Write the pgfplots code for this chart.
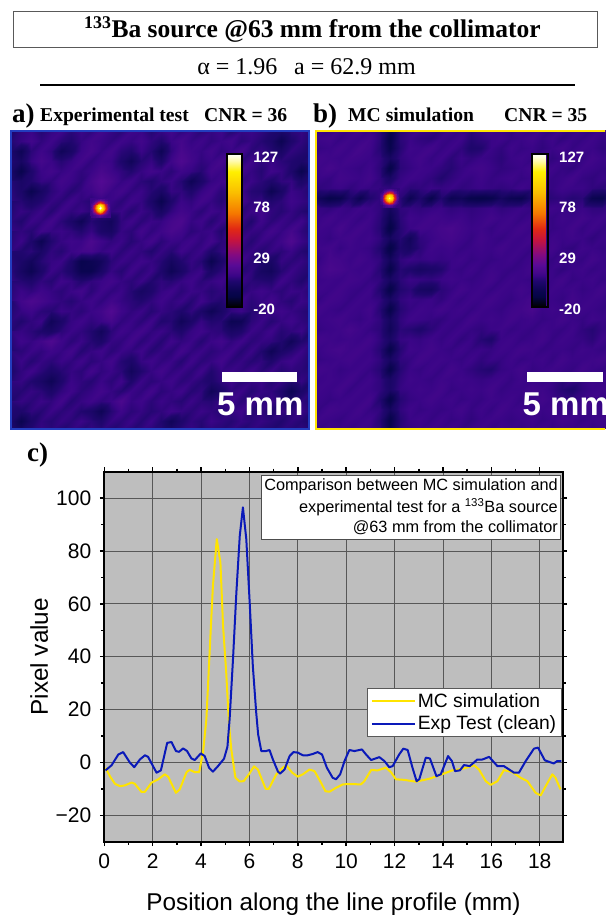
\documentclass[border=0pt]{standalone}
\usepackage{pgfplots}
\pgfplotsset{compat=1.18}
\usepackage{fontspec}
\setmainfont{Liberation Sans}
\newfontfamily\tnr{Liberation Serif}
\newcommand{\fs}[1]{\fontsize{#1}{#1}\selectfont}
\definecolor{chartgray}{RGB}{190,190,190}
\definecolor{gridc}{RGB}{88,88,88}
\definecolor{ylw}{RGB}{255,228,0}
\definecolor{blu}{RGB}{10,25,185}
\definecolor{pblue}{RGB}{35,60,190}
\pgfplotsset{
  colormap={fire}{rgb255(0pt)=(0,0,0) rgb255(10pt)=(5,5,70) rgb255(15pt)=(10,5,80) rgb255(25pt)=(32,6,110) rgb255(30pt)=(58,5,135) rgb255(34pt)=(72,8,140) rgb255(40pt)=(88,10,150) rgb255(50pt)=(130,10,130) rgb255(65pt)=(200,20,60) rgb255(75pt)=(225,40,20) rgb255(90pt)=(245,120,0) rgb255(110pt)=(250,190,0) rgb255(130pt)=(255,240,0) rgb255(140pt)=(255,250,170) rgb255(147pt)=(255,255,255)},
  panel/.style={scale only axis, height=298pt, xmin=0, ymin=0, ymax=298, y dir=reverse, ticks=none, axis on top, colormap name=fire, point meta min=-20, point meta max=127,
    colorbar,
    colorbar style={scale only axis, height=153pt, ytick={-20,29,78,127}, yticklabels={-20,29,78,127}, yticklabel pos=right, major tick length=0pt, minor tick length=0pt,
       yticklabel style={text=white, font=\bfseries\fs{15}, xshift=8pt, yshift=-3pt}, axis line style={black,line width=2.2pt}}},
}
\begin{document}
\begin{tikzpicture}[x=1pt,y=1pt]
\useasboundingbox (0,0) rectangle (605,915);
\clip (0,0) rectangle (605,915);
% header
\draw[black!65,line width=0.7pt] (13,868) rectangle (597,904);
\node[anchor=base,font=\tnr\bfseries\fs{25.5}] at (312.5,877) {\textsuperscript{133}Ba source @63 mm from the collimator};
\node[anchor=base,font=\tnr\fs{24}] at (306.5,840) {α = 1.96\hspace{0.7em}a = 62.9 mm};
\draw[black,line width=1.4pt] (40,830) -- (575,830);
\node[anchor=base west,inner sep=0,font=\tnr\bfseries\fs{27}] at (12,792) {a)};
\node[anchor=base west,inner sep=0,font=\tnr\bfseries\fs{19.6}] at (40,793) {Experimental test};
\node[anchor=base west,inner sep=0,font=\tnr\bfseries\fs{19.6}] at (204,793) {CNR = 36};
\node[anchor=base west,inner sep=0,font=\tnr\bfseries\fs{27}] at (313,792) {b)};
\node[anchor=base west,inner sep=0,font=\tnr\bfseries\fs{19.6}] at (348,793) {MC simulation};
\node[anchor=base west,inner sep=0,font=\tnr\bfseries\fs{19.6}] at (504,793) {CNR = 35};
\node[anchor=base west,inner sep=0,font=\tnr\bfseries\fs{27}] at (27,453) {c)};
% panel a
\begin{axis}[panel, at={(11pt,486pt)}, anchor=south west, width=298pt, xmax=298,
  axis line style={pblue,line width=2pt},
  colorbar style={at={(0.724,0.41)},anchor=south west,width=15pt}]
\addplot[surf,shader=interp,mesh/cols=31,point meta=explicit] table[header=false,row sep=\\,x expr={mod(\coordindex,31)*10},y expr={floor(\coordindex/31)*10},meta index=0] {
4\\8\\10\\6\\9\\11\\7\\10\\8\\12\\9\\7\\11\\10\\6\\9\\12\\8\\10\\7\\9\\11\\6\\9\\10\\8\\5\\3\\7\\9\\6\\
6\\9\\12\\8\\11\\7\\5\\9\\12\\10\\8\\11\\9\\12\\8\\5\\10\\13\\9\\11\\8\\10\\12\\7\\9\\6\\3\\-4\\4\\8\\5\\
3\\-3\\7\\11\\8\\-2\\2\\10\\13\\9\\12\\7\\5\\10\\6\\-3\\8\\14\\11\\9\\12\\8\\10\\13\\7\\9\\6\\2\\8\\6\\4\\
5\\1\\9\\13\\10\\6\\9\\12\\8\\11\\10\\4\\-2\\6\\9\\3\\11\\16\\12\\8\\10\\13\\9\\7\\11\\8\\10\\7\\5\\3\\6\\
2\\-6\\4\\10\\12\\9\\11\\8\\10\\14\\11\\8\\5\\9\\12\\10\\7\\11\\9\\6\\12\\10\\8\\12\\9\\6\\11\\9\\4\\-5\\2\\
4\\2\\5\\9\\8\\12\\10\\7\\13\\18\\14\\9\\11\\7\\5\\8\\10\\6\\-3\\3\\9\\11\\13\\8\\10\\7\\4\\8\\9\\3\\6\\
6\\3\\-5\\1\\7\\10\\6\\9\\11\\15\\10\\12\\8\\10\\6\\2\\9\\8\\4\\9\\12\\7\\9\\11\\6\\5\\-4\\2\\10\\8\\5\\
8\\6\\2\\5\\9\\7\\11\\8\\6\\9\\10\\7\\11\\9\\3\\-5\\4\\10\\8\\12\\9\\6\\10\\13\\8\\9\\5\\7\\11\\9\\7\\
5\\9\\7\\10\\6\\11\\8\\10\\7\\9\\8\\10\\6\\10\\7\\1\\8\\12\\10\\7\\11\\9\\12\\7\\10\\12\\8\\6\\9\\6\\4\\
7\\5\\10\\8\\12\\7\\3\\-3\\6\\2\\-1\\8\\11\\7\\10\\9\\13\\15\\9\\11\\6\\10\\8\\9\\5\\11\\7\\10\\8\\11\\6\\
9\\8\\6\\11\\9\\10\\8\\5\\9\\3\\1\\9\\7\\12\\8\\11\\14\\12\\7\\9\\10\\5\\11\\7\\9\\8\\12\\9\\13\\8\\5\\
6\\10\\4\\-4\\5\\9\\11\\10\\15\\11\\8\\10\\6\\9\\12\\7\\10\\9\\11\\8\\12\\7\\9\\10\\6\\10\\8\\11\\16\\10\\7\\
8\\5\\7\\2\\8\\6\\10\\12\\13\\9\\11\\7\\10\\8\\5\\9\\6\\11\\8\\10\\4\\8\\11\\8\\9\\6\\9\\7\\10\\6\\4\\
5\\3\\-1\\6\\9\\10\\4\\-6\\-4\\-1\\7\\10\\8\\11\\9\\6\\0\\5\\9\\6\\-5\\3\\9\\11\\7\\5\\2\\9\\7\\9\\6\\
7\\1\\-4\\3\\10\\7\\3\\-5\\-5\\2\\9\\6\\11\\7\\10\\4\\-3\\2\\8\\10\\2\\7\\10\\6\\8\\1\\-1\\6\\10\\7\\5\\
9\\6\\4\\8\\6\\11\\9\\5\\8\\10\\12\\9\\7\\10\\5\\8\\6\\9\\11\\7\\9\\11\\8\\10\\7\\6\\5\\11\\8\\5\\8\\
6\\10\\8\\11\\9\\7\\10\\12\\7\\11\\8\\10\\6\\1\\4\\9\\11\\7\\10\\9\\6\\8\\10\\6\\9\\11\\9\\7\\10\\9\\6\\
8\\12\\15\\13\\10\\8\\6\\9\\11\\8\\12\\9\\7\\5\\8\\11\\8\\10\\6\\11\\7\\5\\9\\11\\7\\9\\12\\8\\6\\10\\8\\
5\\9\\11\\7\\6\\10\\9\\7\\10\\12\\17\\11\\8\\10\\6\\9\\7\\4\\8\\3\\-3\\2\\8\\10\\6\\8\\10\\11\\9\\7\\5\\
7\\5\\8\\10\\-2\\3\\9\\11\\8\\10\\13\\8\\10\\7\\11\\5\\6\\-2\\3\\9\\5\\6\\-4\\-3\\7\\10\\6\\9\\11\\8\\6\\
6\\9\\7\\4\\2\\7\\10\\8\\5\\-1\\7\\11\\9\\12\\8\\10\\7\\4\\9\\11\\8\\7\\2\\4\\10\\8\\11\\6\\8\\10\\4\\
8\\11\\9\\12\\16\\11\\7\\10\\6\\3\\9\\8\\12\\7\\10\\6\\11\\8\\10\\6\\10\\12\\8\\11\\7\\9\\8\\5\\-2\\5\\7\\
5\\7\\10\\8\\11\\9\\12\\6\\9\\11\\7\\10\\8\\11\\6\\9\\7\\12\\8\\10\\7\\9\\11\\6\\10\\5\\-3\\3\\6\\10\\6\\
7\\10\\6\\9\\7\\10\\8\\11\\7\\9\\12\\6\\3\\9\\11\\8\\10\\6\\11\\7\\9\\12\\7\\9\\6\\8\\4\\9\\11\\8\\5\\
4\\8\\11\\7\\3\\6\\9\\7\\12\\8\\10\\7\\-1\\5\\9\\12\\8\\10\\7\\11\\5\\9\\10\\8\\11\\7\\10\\6\\8\\7\\6\\
6\\9\\5\\2\\-3\\4\\10\\8\\6\\10\\7\\11\\4\\10\\7\\9\\11\\7\\9\\6\\4\\8\\11\\7\\9\\10\\6\\9\\5\\9\\4\\
8\\6\\9\\7\\3\\8\\11\\7\\9\\12\\9\\6\\10\\8\\12\\7\\9\\11\\6\\8\\-2\\3\\8\\10\\6\\9\\8\\4\\-4\\3\\7\\
5\\9\\7\\10\\8\\12\\6\\9\\11\\8\\10\\15\\9\\11\\7\\10\\8\\6\\10\\7\\6\\9\\11\\7\\10\\7\\10\\6\\3\\8\\5\\
7\\4\\8\\6\\10\\7\\9\\5\\3\\-3\\6\\11\\7\\9\\6\\8\\11\\9\\7\\10\\8\\6\\9\\11\\6\\8\\5\\9\\7\\10\\6\\
3\\-5\\3\\8\\6\\9\\7\\10\\7\\4\\9\\7\\10\\6\\10\\5\\-2\\4\\8\\6\\10\\8\\6\\9\\7\\9\\7\\5\\8\\6\\4\\
5\\2\\6\\9\\7\\5\\8\\6\\9\\7\\5\\8\\6\\8\\7\\6\\3\\7\\9\\5\\7\\6\\8\\5\\8\\6\\5\\7\\6\\8\\5\\
};
\addplot[surf,shader=interp,mesh/cols=9,point meta=explicit] table[header=false,row sep=\\,x expr={79+mod(\coordindex,9)*2.5},y expr={67+floor(\coordindex/9)*2.5},meta index=0] {
10\\10\\10\\10\\10\\10\\10\\10\\10\\
10\\10\\14\\20\\25\\20\\14\\10\\10\\
10\\14\\30\\55\\65\\55\\30\\14\\10\\
10\\20\\55\\95\\110\\95\\55\\20\\10\\
10\\25\\65\\110\\127\\110\\65\\25\\10\\
10\\20\\55\\95\\110\\95\\55\\20\\10\\
10\\14\\30\\55\\65\\55\\30\\14\\10\\
10\\10\\14\\20\\25\\20\\14\\10\\10\\
10\\10\\10\\10\\10\\10\\10\\10\\10\\
};
\end{axis}
% panel b
\begin{axis}[panel, at={(316pt,486pt)}, anchor=south west, width=296pt, xmax=296,
  axis line style={ylw,line width=2.2pt},
  colorbar style={at={(0.7287,0.41)},anchor=south west,width=16pt}]
\addplot[surf,shader=interp,mesh/cols=31,point meta=explicit] table[header=false,row sep=\\,x expr={-6.7+mod(\coordindex,31)*10.1},y expr={-3+floor(\coordindex/31)*10.04},meta index=0] {
9\\10\\8\\11\\10\\12\\9\\6\\-5\\6\\9\\11\\10\\8\\11\\9\\7\\10\\12\\10\\8\\11\\9\\10\\8\\11\\9\\10\\8\\10\\9\\
10\\11\\12\\9\\11\\10\\12\\7\\-8\\7\\10\\8\\7\\10\\9\\11\\6\\8\\10\\11\\9\\10\\12\\9\\11\\8\\10\\9\\11\\9\\10\\
11\\9\\10\\12\\10\\13\\11\\6\\-6\\6\\11\\10\\12\\9\\11\\8\\4\\5\\10\\8\\11\\9\\10\\8\\10\\12\\9\\11\\10\\8\\9\\
9\\12\\11\\10\\12\\11\\10\\8\\1\\8\\10\\12\\9\\11\\7\\10\\8\\10\\9\\7\\10\\11\\9\\11\\8\\10\\11\\9\\12\\10\\11\\
10\\11\\13\\11\\10\\9\\11\\7\\-8\\7\\9\\11\\10\\8\\6\\9\\11\\12\\10\\8\\9\\10\\12\\10\\11\\9\\8\\11\\10\\9\\8\\
11\\10\\9\\12\\11\\10\\12\\8\\2\\9\\11\\10\\8\\5\\8\\10\\9\\11\\9\\10\\11\\9\\10\\11\\9\\10\\12\\9\\8\\10\\9\\
10\\8\\9\\10\\8\\10\\9\\9\\8\\10\\7\\8\\10\\9\\10\\8\\9\\10\\9\\8\\9\\11\\9\\10\\9\\11\\10\\10\\8\\7\\10\\
8\\-2\\-7\\-5\\4\\-4\\5\\8\\6\\7\\-4\\4\\-6\\5\\-4\\-2\\-7\\-8\\-6\\0\\-4\\-5\\4\\6\\7\\8\\6\\7\\-5\\-6\\6\\
10\\9\\8\\10\\9\\11\\10\\8\\0\\8\\9\\8\\9\\10\\8\\9\\8\\9\\10\\8\\9\\10\\9\\10\\11\\10\\9\\10\\8\\8\\10\\
11\\10\\12\\10\\11\\9\\11\\7\\-4\\7\\11\\10\\12\\11\\10\\11\\9\\10\\12\\10\\11\\9\\11\\10\\9\\11\\10\\12\\10\\11\\9\\
9\\11\\10\\13\\10\\12\\10\\6\\-9\\6\\10\\12\\11\\13\\14\\12\\10\\11\\9\\11\\10\\12\\10\\11\\9\\10\\12\\9\\11\\9\\10\\
12\\10\\9\\11\\12\\10\\11\\8\\0\\6\\-1\\8\\10\\12\\13\\11\\9\\12\\10\\9\\11\\10\\12\\9\\11\\10\\11\\10\\8\\10\\11\\
10\\11\\12\\9\\11\\10\\9\\5\\-9\\4\\1\\7\\11\\10\\11\\9\\10\\11\\10\\12\\10\\11\\9\\10\\12\\9\\8\\11\\10\\9\\10\\
11\\9\\13\\12\\10\\12\\10\\8\\-1\\8\\10\\9\\10\\9\\10\\11\\9\\10\\9\\10\\11\\9\\11\\10\\9\\11\\10\\9\\12\\10\\9\\
10\\11\\14\\13\\11\\10\\11\\6\\-7\\6\\4\\1\\3\\5\\10\\9\\11\\9\\11\\10\\9\\10\\12\\9\\10\\8\\10\\11\\9\\10\\11\\
12\\10\\11\\10\\12\\11\\9\\8\\1\\7\\10\\9\\8\\10\\11\\10\\9\\10\\12\\9\\11\\10\\9\\11\\10\\12\\9\\10\\11\\9\\10\\
9\\11\\10\\12\\10\\9\\11\\5\\-8\\5\\7\\1\\0\\7\\9\\12\\10\\11\\9\\11\\10\\12\\10\\9\\11\\10\\11\\9\\10\\12\\9\\
11\\9\\12\\11\\9\\11\\10\\8\\1\\8\\10\\9\\10\\8\\11\\9\\11\\10\\12\\10\\9\\11\\13\\11\\10\\9\\12\\10\\11\\10\\9\\
10\\12\\10\\9\\11\\10\\12\\6\\-7\\6\\9\\11\\10\\12\\10\\11\\9\\11\\10\\9\\11\\12\\14\\10\\11\\10\\9\\11\\10\\9\\11\\
9\\10\\11\\12\\10\\9\\11\\8\\0\\8\\11\\10\\9\\8\\10\\9\\12\\10\\11\\10\\12\\10\\11\\9\\10\\12\\10\\9\\11\\10\\9\\
11\\9\\10\\11\\13\\11\\9\\7\\-2\\7\\6\\4\\7\\10\\9\\11\\9\\8\\10\\11\\9\\10\\9\\11\\10\\9\\11\\8\\6\\9\\10\\
10\\12\\11\\10\\11\\10\\12\\8\\2\\9\\10\\9\\11\\9\\11\\8\\10\\6\\4\\10\\11\\9\\10\\12\\9\\11\\10\\9\\7\\11\\9\\
9\\10\\12\\13\\11\\12\\10\\6\\-7\\6\\11\\10\\12\\10\\9\\11\\9\\10\\9\\11\\10\\12\\11\\9\\10\\10\\9\\11\\10\\9\\11\\
11\\9\\10\\11\\12\\10\\11\\8\\1\\8\\9\\12\\10\\11\\10\\9\\11\\8\\10\\9\\11\\9\\10\\11\\9\\12\\10\\10\\11\\12\\10\\
10\\12\\11\\9\\10\\11\\9\\6\\-7\\6\\10\\9\\11\\9\\12\\10\\8\\6\\5\\9\\10\\12\\9\\10\\11\\10\\9\\12\\10\\9\\11\\
12\\10\\11\\10\\12\\9\\11\\8\\2\\8\\11\\10\\9\\11\\10\\11\\10\\9\\10\\11\\9\\11\\10\\9\\10\\7\\10\\9\\11\\10\\9\\
9\\11\\10\\12\\9\\11\\10\\8\\3\\9\\10\\11\\10\\12\\9\\10\\11\\10\\12\\9\\10\\10\\12\\11\\9\\6\\4\\8\\10\\11\\10\\
11\\10\\9\\10\\11\\10\\12\\5\\-8\\6\\9\\10\\12\\10\\11\\9\\10\\9\\11\\10\\11\\9\\10\\12\\10\\9\\8\\10\\12\\9\\10\\
10\\9\\12\\11\\10\\12\\9\\8\\0\\8\\11\\9\\10\\9\\10\\12\\9\\11\\9\\12\\10\\11\\9\\10\\11\\10\\9\\11\\10\\10\\11\\
9\\11\\10\\9\\11\\10\\11\\6\\-7\\6\\10\\11\\9\\11\\9\\10\\8\\10\\11\\10\\9\\10\\11\\9\\10\\12\\11\\9\\10\\11\\9\\
10\\9\\11\\10\\9\\11\\10\\7\\-5\\7\\9\\10\\11\\10\\11\\9\\10\\11\\9\\11\\10\\9\\10\\11\\9\\10\\10\\11\\9\\10\\10\\
};
\addplot[surf,shader=interp,mesh/cols=9,point meta=explicit] table[header=false,row sep=\\,x expr={63+mod(\coordindex,9)*2.5},y expr={57+floor(\coordindex/9)*2.5},meta index=0] {
8\\8\\8\\8\\8\\8\\8\\8\\8\\
8\\8\\12\\18\\22\\18\\12\\8\\8\\
8\\12\\28\\50\\60\\50\\28\\12\\8\\
8\\18\\50\\85\\100\\85\\50\\18\\8\\
8\\22\\60\\100\\118\\100\\60\\22\\8\\
8\\18\\50\\85\\100\\85\\50\\18\\8\\
8\\12\\28\\50\\60\\50\\28\\12\\8\\
8\\8\\12\\18\\22\\18\\12\\8\\8\\
8\\8\\8\\8\\8\\8\\8\\8\\8\\
};
\end{axis}
% scale bars
\fill[white] (222,533) rectangle (297,543);
\node[anchor=base west,inner sep=0,text=white,font=\bfseries\fs{33}] at (217,499) {5 mm};
\fill[white] (527,533) rectangle (603,543);
\node[anchor=base west,inner sep=0,text=white,font=\bfseries\fs{33}] at (522.5,499) {5 mm};
% panel c
\begin{axis}[scale only axis, at={(104.3pt,73.3pt)}, anchor=south west, width=458.4pt, height=370pt,
  xmin=0, xmax=18.95, ymin=-30, ymax=110,
  axis background/.style={fill=chartgray},
  axis line style={black,line width=2.2pt},
  xtick={0,2,...,18}, minor x tick num=1,
  ytick={-20,0,20,40,60,80,100}, yticklabels={−20,0,20,40,60,80,100}, minor y tick num=1,
  xticklabels={0,2,4,6,8,10,12,14,16,18},
  tick style={black,line width=1.5pt}, major tick length=4.5pt, minor tick length=3pt, tick align=outside,
  grid=major, grid style={gridc,line width=0.9pt},
  xticklabel style={font=\fs{21},yshift=-4pt},
  yticklabel style={font=\fs{21},xshift=-5pt},
  xtick pos=both, ytick pos=both, xticklabel pos=bottom, yticklabel pos=left,
  xlabel={Position along the line profile (mm)}, ylabel={Pixel value},
  label style={font=\fs{24.3}},
  xlabel style={at={(axis description cs:0.5,-0.1846)},anchor=base},
  ylabel style={at={(axis description cs:-0.123,0.5)},anchor=base,rotate=0},
  legend style={at={(0.9978,0.416)},anchor=north east,draw=black!65,line width=1pt,fill=white,font=\fs{19.3},inner xsep=3pt,inner ysep=3pt,row sep=3pt,cells={anchor=west}},
  legend image code/.code={\draw[#1,line width=2pt] (0pt,0pt) -- (43pt,0pt);},
]
\addplot[ylw,line width=2pt,line join=round] coordinates {
(0.05,-2)(0.23,-5.2)(0.44,-8.1)(0.65,-9)(0.85,-8.7)(1.13,-7.6)(1.26,-8.1)(1.54,-11.2)(1.68,-11.1)(1.95,-7.7)(2.23,-6.4)(2.5,-4.5)(2.64,-5.4)(2.96,-11.5)(3.12,-10.2)(3.4,-3.7)(3.53,-2.8)(3.74,-3.7)(3.92,-3.7)(4.08,3.7)(4.22,16.3)(4.36,42.8)(4.49,66.8)(4.65,84.5)(4.8,75.6)(4.91,51.6)(5.04,34)(5.15,15)(5.25,4.9)(5.42,-5.8)(5.59,-7.2)(5.76,-7.1)(5.98,-4.5)(6.19,-1.5)(6.35,-2.7)(6.67,-10)(6.8,-10)(7.11,-4.5)(7.38,-2)(7.52,-1.1)(7.77,-3.9)(8,-5.4)(8.21,-4.5)(8.48,-2.7)(8.69,-3.3)(8.96,-7.7)(9.14,-10.9)(9.31,-11.1)(9.58,-9.6)(9.86,-8.3)(10.13,-8.2)(10.61,-8.3)(10.75,-7.1)(11.03,-2.9)(11.3,-3)(11.64,-2)(11.85,-3.7)(12.06,-6.4)(12.4,-6.6)(12.88,-7.3)(13.43,-6.2)(13.84,-4.9)(14.39,-3)(14.81,-2.4)(15.29,-1.1)(15.49,-2.7)(15.77,-7.1)(15.97,-8.5)(16.25,-7.1)(16.52,-2.9)(16.87,-3.7)(17.21,-5.8)(17.49,-7.1)(17.83,-11.5)(18.04,-12.5)(18.21,-9.6)(18.52,-4.5)(18.65,-5.8)(18.86,-10.2)
};
\addlegendentry{MC simulation}
\addplot[blu,line width=2pt,line join=round] coordinates {
(0.05,-3)(0.3,-1.1)(0.58,3)(0.78,3.9)(1.06,-0.1)(1.24,-1.8)(1.47,1.1)(1.68,2.7)(1.81,2.1)(2.16,-3.9)(2.34,-3)(2.6,7.4)(2.78,7.7)(2.96,4.3)(3.09,4)(3.26,5.3)(3.42,4.3)(3.6,1.5)(3.74,0.9)(3.99,3.4)(4.15,2.4)(4.33,-2)(4.49,-3.5)(4.7,-1.4)(4.95,1.4)(5.09,5.9)(5.18,16.3)(5.32,39)(5.46,64.3)(5.6,85.7)(5.73,96.5)(5.87,84.5)(6.01,60.5)(6.14,36.5)(6.28,18.8)(6.36,10.6)(6.49,4.3)(6.69,4.3)(6.83,4.7)(6.97,1.1)(7.18,-3.5)(7.27,-4.2)(7.45,-2.7)(7.66,2.4)(7.82,3.9)(8,3.7)(8.21,2.7)(8.41,2.7)(8.62,3.2)(8.82,3.9)(9,3)(9.2,-2)(9.44,-5.8)(9.58,-6.4)(9.75,-4.5)(9.93,0.5)(10.13,4.7)(10.34,4.3)(10.65,4.9)(10.82,3)(11.03,0.9)(11.37,2)(11.58,0.5)(11.78,-1.8)(11.92,-1.4)(12.19,3)(12.36,5.2)(12.54,4.7)(12.74,-2)(12.91,-7.1)(13.02,-6.4)(13.29,1.8)(13.46,1.5)(13.73,-5.2)(13.91,-4.5)(14.21,2.4)(14.37,0.5)(14.5,-3.3)(14.7,-3)(14.87,-1)(15.11,-1.4)(15.42,1.1)(15.63,1.1)(15.91,2.1)(16.25,-1.4)(16.52,-1.4)(16.94,-3.9)(17.14,-3.9)(17.42,0.5)(17.76,5.2)(17.93,5.6)(18.21,0.8)(18.58,-0.4)(18.72,0.5)(18.9,0.5)
};
\addlegendentry{Exp Test (clean)}
\end{axis}
\draw[black,line width=2.2pt] (104.3,73.3) rectangle (562.7,443.3);
\draw[black!70,fill=white,line width=0.8pt] (261.7,376) rectangle (560.7,439.3);
\node[anchor=base east,inner sep=0,font=\fs{16.3}] at (558,424) {Comparison between MC simulation and};
\node[anchor=base east,inner sep=0,font=\fs{16.3}] at (558,402) {experimental test for a \textsuperscript{133}Ba source};
\node[anchor=base east,inner sep=0,font=\fs{16.3}] at (558,382) {@63 mm from the collimator};
\end{tikzpicture}
\end{document}
